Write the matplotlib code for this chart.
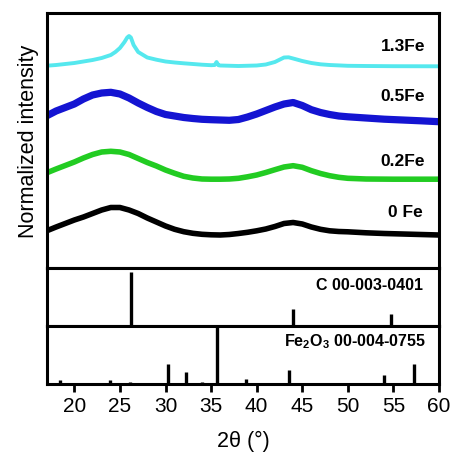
import matplotlib
matplotlib.use("Agg")
import matplotlib.pyplot as plt

plt.rcParams['font.family'] = ['Liberation Sans', 'DejaVu Sans']
plt.rcParams['mathtext.fontset'] = 'custom'
plt.rcParams['mathtext.rm'] = 'Liberation Sans:bold'

# ---- data ----
x_0fe = [17, 18, 19, 20, 21, 22, 23, 24, 25, 26, 27, 28, 29, 30, 31, 32, 33, 34, 35, 36, 37, 38, 39, 40,
         41, 42, 43, 44, 45, 46, 47, 48, 49, 50, 52, 54, 56, 58, 60]
y_0fe = [37.3, 41, 44.5, 48, 51, 54.5, 58, 60.5, 60.5, 58, 54.5, 50, 46, 42, 38.7, 36.3, 34.7, 33.7, 33.2, 33,
         33.5, 34.5, 35.7, 37.2, 39, 41.5, 44.5, 45.5, 44, 41, 38.7, 37.2, 36.5, 36.2, 35.2, 34.5, 34, 33.5, 33]

x_02fe = [17, 18, 19, 20, 21, 22, 23, 24, 25, 26, 27, 28, 29, 30, 31, 32, 33, 34, 35, 36, 37, 38, 39, 40,
          41, 42, 43, 44, 45, 46, 47, 48, 49, 50, 52, 55, 60]
y_02fe = [95.3, 99, 102.5, 106, 110, 113.5, 116, 116.7, 116, 113.5, 109.5, 105.5, 102, 98, 94.7, 91.7, 90, 89,
          88.8, 88.8, 89, 89.7, 91.2, 93, 95.5, 98.3, 101, 102.3, 100.7, 97.3, 94.5, 92.3, 90.7, 89.7, 89, 88.8, 88.8]

x_05fe = [17, 18, 19, 20, 21, 22, 23, 24, 25, 26, 27, 28, 29, 30, 31, 32, 33, 34, 35, 36, 37, 38, 39, 40,
          41, 42, 43, 44, 45, 46, 47, 48, 49, 50, 52, 54, 56, 58, 60]
y_05fe = [152.3, 157, 160.5, 164, 169, 173, 175, 175.7, 174, 170, 165, 160.5, 156.5, 153.5, 152, 150.5, 149.5,
          148.7, 148.3, 148, 147.7, 148.5, 151, 154, 157.5, 161, 164, 165.5, 162.5, 158.3, 155.5, 153.5, 152,
          151.2, 150, 148.8, 148, 147.2, 146.3]

x_13fe = [17, 18, 19, 20, 21, 22, 23, 24, 24.5, 25, 25.5, 25.8, 26, 26.2, 26.5, 27, 28, 29, 30, 31, 32, 33, 34,
          35, 35.4, 35.6, 35.8, 36, 38, 40, 41, 42, 43, 43.5, 44, 45, 46, 47, 48, 50, 52, 55, 60]
y_13fe = [202.3, 203, 204, 205, 206.5, 208, 210, 213, 216, 220, 226, 230.5, 232, 230.5, 223, 216, 210.5, 208.3,
          206.5, 205.5, 204.7, 204, 203.3, 202.8, 203, 206, 202.8, 202.5, 202, 202.5, 203.5, 206, 210.5, 210.7,
          209.5, 207, 205, 203.7, 203, 202.2, 202, 201.8, 201.7]

sample_labels = ['1.3Fe', '0.5Fe', '0.2Fe', '0 Fe']
label_y = [222.3, 172.5, 107.0, 56.5]

c_pos = [26.2, 44.0, 54.7]
c_int = [93, 29, 20]

fe_pos = [18.4, 21.3, 23.9, 26.1, 30.3, 32.2, 34.0, 35.6, 37.4, 38.85, 40.6, 43.5, 48.8, 54.0, 57.3]
fe_int = [7, 2, 7, 3, 34, 21, 3, 100, 2, 8, 2, 25, 2, 15, 34]

xticks = [20, 25, 30, 35, 40, 45, 50, 55, 60]

# ---- figure ----
fig = plt.figure(figsize=(4.5, 4.56), dpi=100)
L, W = 47 / 450, (439 - 47) / 450
H = 456
def box(top, bot):
    return [L, 1 - bot / H, W, (bot - top) / H]

ax1 = fig.add_axes(box(14, 269))
ax2 = fig.add_axes(box(269, 327), sharex=ax1)
ax3 = fig.add_axes(box(327, 385), sharex=ax1)

lw_sp = 2.2
for ax in (ax1, ax2, ax3):
    for s in ax.spines.values():
        s.set_linewidth(lw_sp)
    ax.set_yticks([])
    ax.tick_params(axis='x', which='both', bottom=False, labelbottom=False)

ax1.plot(x_0fe, y_0fe, color='black', lw=4.0, solid_joinstyle='round', solid_capstyle='butt')
ax1.plot(x_02fe, y_02fe, color='#22CC22', lw=4.0, solid_joinstyle='round', solid_capstyle='butt')
ax1.plot(x_05fe, y_05fe, color='#1414D2', lw=5.2, solid_joinstyle='round', solid_capstyle='butt')
ax1.plot(x_13fe, y_13fe, color='#55E8EE', lw=2.8, solid_joinstyle='round', solid_capstyle='butt')
ax1.set_ylim(0, 255)
ax1.set_xlim(17, 60)

label_x = [58.5, 58.5, 58.5, 58.2]
for t, xx, yy in zip(sample_labels, label_x, label_y):
    ax1.text(xx, yy, t, ha='right', va='center', fontsize=12.5, fontweight='bold')

ax1.set_ylabel('Normalized intensity', fontsize=15.5, labelpad=6)

ax2.vlines(c_pos, 0, c_int, color='black', lw=2.4)
ax2.set_ylim(0, 100)
ax2.text(58.2, 72, 'C 00-003-0401', ha='right', va='center', fontsize=11.5, fontweight='bold')

ax3.vlines(fe_pos, 0, fe_int, color='black', lw=2.4)
ax3.set_ylim(0, 100)
ax3.text(58.5, 74, r'Fe$_\mathregular{2}$O$_\mathregular{3}$ 00-004-0755', ha='right', va='center',
         fontsize=11.5, fontweight='bold')

ax3.set_xticks(xticks)
ax3.tick_params(axis='x', bottom=True, labelbottom=True, direction='out', length=6, width=2,
                labelsize=15, pad=3)
ax3.set_xlabel('2θ (°)', fontsize=15.5, labelpad=10)

fig.savefig('out.png', dpi=100)
